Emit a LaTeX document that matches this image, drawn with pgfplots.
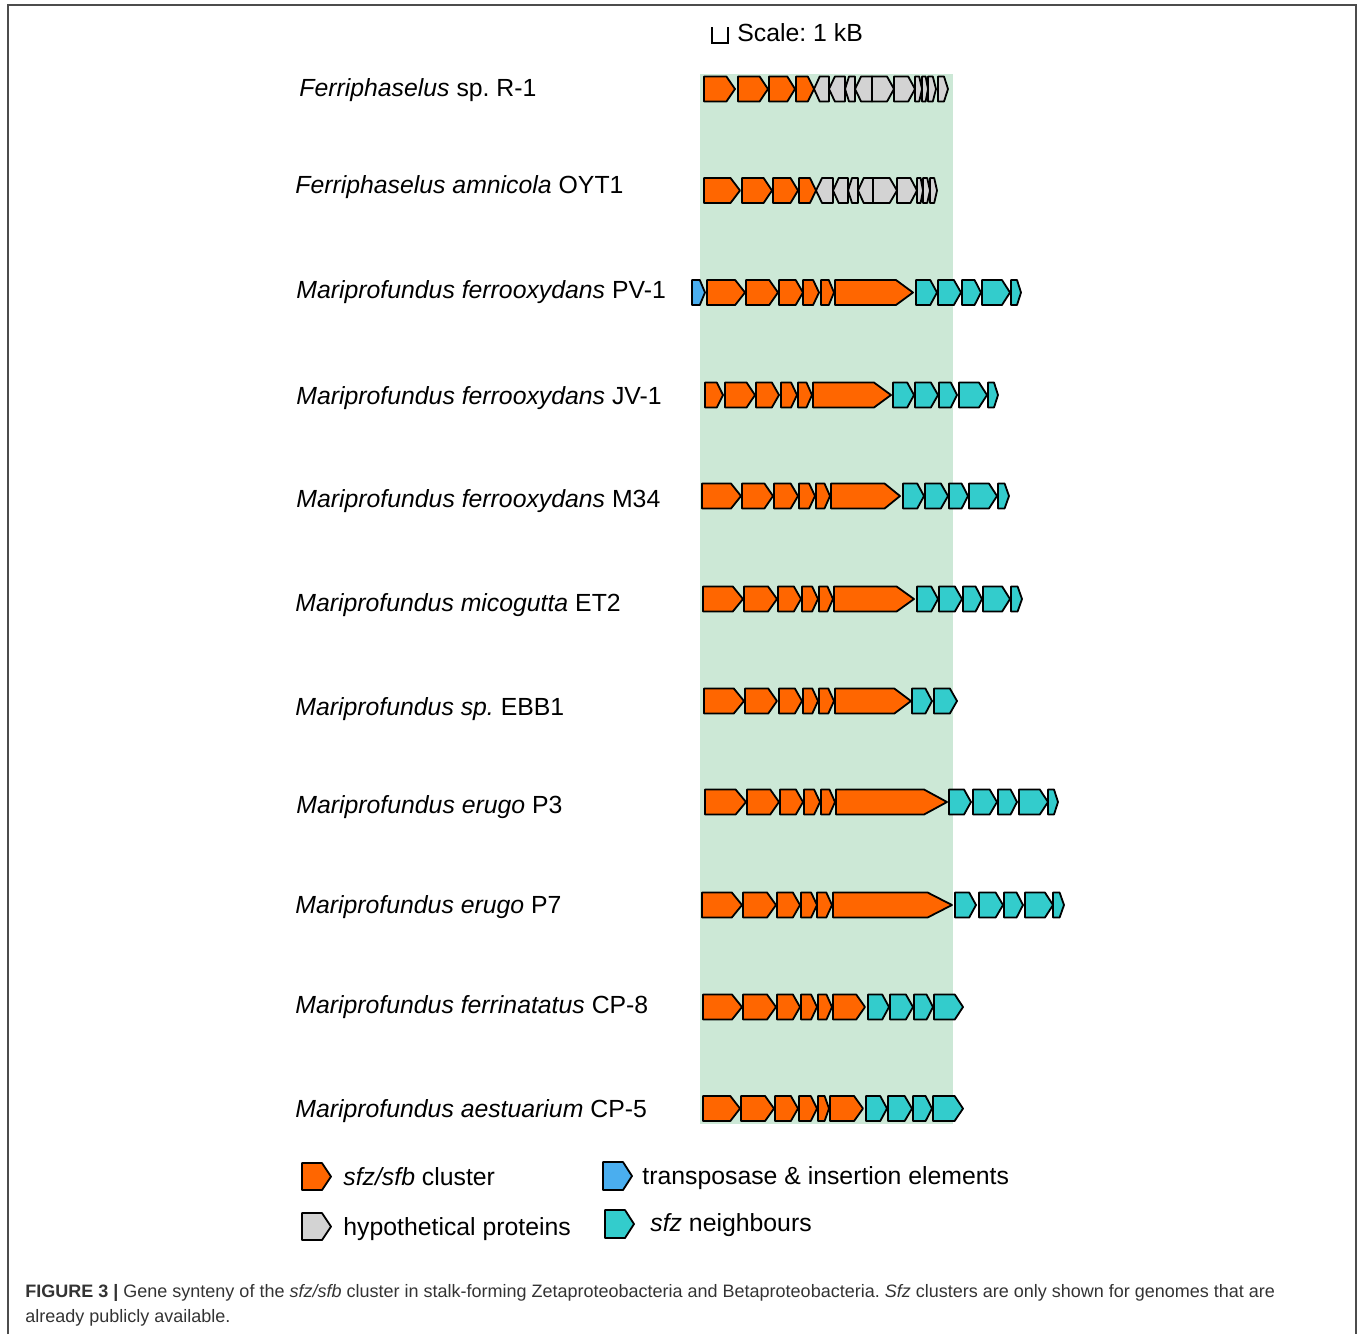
\documentclass[border=0pt]{standalone}
\usepackage{fontspec}
\setmainfont{Liberation Sans}
\usepackage{pgfplots}
\pgfplotsset{compat=1.18}
\frenchspacing

\definecolor{sfz}{HTML}{FF6600}
\definecolor{hyp}{HTML}{D3D3D3}
\definecolor{tra}{HTML}{4AAEEF}
\definecolor{nei}{HTML}{33CCCC}
\definecolor{bg}{HTML}{CCE8D6}
\definecolor{cap}{HTML}{333333}

\pgfplotsset{gene/.style={draw=black, line width=0.9pt, line join=round}}

% forward gene: start, end, row centre, colour
\newcommand{\fwd}[4]{%
  \pgfmathsetmacro\gl{#2-#1}%
  \pgfmathsetmacro\gt{min(0.18*\gl+3,0.4*\gl)}%
  \pgfmathsetmacro\gs{#2-\gt}%
  \pgfmathsetmacro\ya{#3-12.5}%
  \pgfmathsetmacro\yb{#3+12.5}%
  \addplot[gene, fill=#4] coordinates {(#1,\ya) (\gs,\ya) (#2,#3) (\gs,\yb) (#1,\yb)} -- cycle;
}
% reverse gene
\newcommand{\rev}[4]{%
  \pgfmathsetmacro\gl{#2-#1}%
  \pgfmathsetmacro\gt{min(0.18*\gl+3,0.4*\gl)}%
  \pgfmathsetmacro\gs{#1+\gt}%
  \pgfmathsetmacro\ya{#3-12.5}%
  \pgfmathsetmacro\yb{#3+12.5}%
  \addplot[gene, fill=#4] coordinates {(\gs,\ya) (#2,\ya) (#2,\yb) (\gs,\yb) (#1,#3)} -- cycle;
}
\newcommand{\lab}{\fontsize{12.4}{14}\selectfont}

\begin{document}
\begin{tikzpicture}
\begin{axis}[
  hide axis, clip=false, scale only axis,
  width=682.5pt, height=667pt,
  xmin=0, xmax=1365, ymin=0, ymax=1334,
  y dir=reverse
]
% page extent
\addplot[draw=none] coordinates {(0,0) (1365,1334)};
% frame
\addplot[black!70, line width=1pt] coordinates {(8,1334) (8,5) (1356,5) (1356,1334)};

% shaded sfz/sfb region
\addplot[fill=bg, draw=none] coordinates {(700,74) (953,74) (953,1124) (700,1124)} -- cycle;

% scale bar
\addplot[black, line width=1pt] coordinates {(712,27) (712,43) (728,43) (728,27)};
\node[anchor=base west, inner sep=0pt, font=\lab] at (axis cs:737,41) {Scale: 1 kB};

% Ferriphaselus sp. R-1
\fwd{704}{735}{89}{sfz}
\fwd{738}{768}{89}{sfz}
\fwd{769}{795}{89}{sfz}
\fwd{796}{814}{89}{sfz}
\rev{814}{829}{89}{hyp}
\rev{829}{845}{89}{hyp}
\rev{845}{855}{89}{hyp}
\rev{855}{872}{89}{hyp}
\fwd{872}{894}{89}{hyp}
\fwd{894}{915}{89}{hyp}
\fwd{915}{922}{89}{hyp}
\fwd{922}{928}{89}{hyp}
\fwd{928}{936}{89}{hyp}
\fwd{938}{948}{89}{hyp}

% Ferriphaselus amnicola OYT1
\fwd{704}{740}{190.5}{sfz}
\fwd{742}{772}{190.5}{sfz}
\fwd{773}{798}{190.5}{sfz}
\fwd{799}{816}{190.5}{sfz}
\rev{816}{833}{190.5}{hyp}
\rev{833}{848}{190.5}{hyp}
\rev{848}{858}{190.5}{hyp}
\rev{858}{873}{190.5}{hyp}
\fwd{873}{897}{190.5}{hyp}
\fwd{897}{917}{190.5}{hyp}
\fwd{917}{923}{190.5}{hyp}
\fwd{923}{930}{190.5}{hyp}
\fwd{930}{937}{190.5}{hyp}

% M. ferrooxydans PV-1
\fwd{692}{705}{292.5}{tra}
\fwd{707}{745}{292.5}{sfz}
\fwd{746}{778}{292.5}{sfz}
\fwd{779}{803}{292.5}{sfz}
\fwd{803}{819}{292.5}{sfz}
\fwd{821}{834}{292.5}{sfz}
\fwd{835}{913}{292.5}{sfz}
\fwd{916}{937}{292.5}{nei}
\fwd{938}{961}{292.5}{nei}
\fwd{962}{981}{292.5}{nei}
\fwd{982}{1010}{292.5}{nei}
\fwd{1011}{1021}{292.5}{nei}

% M. ferrooxydans JV-1
\fwd{705}{723}{395}{sfz}
\fwd{725}{755}{395}{sfz}
\fwd{756}{779}{395}{sfz}
\fwd{781}{797}{395}{sfz}
\fwd{798}{812}{395}{sfz}
\fwd{813}{891}{395}{sfz}
\fwd{893}{914}{395}{nei}
\fwd{915}{938}{395}{nei}
\fwd{939}{957}{395}{nei}
\fwd{959}{987}{395}{nei}
\fwd{988}{998}{395}{nei}

% M. ferrooxydans M34
\fwd{702}{741}{496}{sfz}
\fwd{742}{773}{496}{sfz}
\fwd{774}{798}{496}{sfz}
\fwd{799}{815}{496}{sfz}
\fwd{816}{830}{496}{sfz}
\fwd{831}{900}{496}{sfz}
\fwd{903}{924}{496}{nei}
\fwd{925}{948}{496}{nei}
\fwd{949}{968}{496}{nei}
\fwd{969}{997}{496}{nei}
\fwd{998}{1009}{496}{nei}

% M. micogutta ET2
\fwd{703}{743}{599}{sfz}
\fwd{744}{777}{599}{sfz}
\fwd{778}{801}{599}{sfz}
\fwd{802}{818}{599}{sfz}
\fwd{819}{833}{599}{sfz}
\fwd{834}{914}{599}{sfz}
\fwd{917}{938}{599}{nei}
\fwd{939}{962}{599}{nei}
\fwd{963}{982}{599}{nei}
\fwd{983}{1010}{599}{nei}
\fwd{1011}{1022}{599}{nei}

% M. sp. EBB1
\fwd{704}{744}{701}{sfz}
\fwd{745}{777}{701}{sfz}
\fwd{779}{802}{701}{sfz}
\fwd{803}{818}{701}{sfz}
\fwd{819}{834}{701}{sfz}
\fwd{835}{911}{701}{sfz}
\fwd{912}{932}{701}{nei}
\fwd{934}{957}{701}{nei}

% M. erugo P3
\fwd{705}{746}{802}{sfz}
\fwd{747}{779}{802}{sfz}
\fwd{780}{803}{802}{sfz}
\fwd{804}{820}{802}{sfz}
\fwd{821}{835}{802}{sfz}
\fwd{836}{947}{802}{sfz}
\fwd{949}{971}{802}{nei}
\fwd{973}{997}{802}{nei}
\fwd{998}{1017}{802}{nei}
\fwd{1019}{1048}{802}{nei}
\fwd{1048}{1058}{802}{nei}

% M. erugo P7
\fwd{702}{742}{905}{sfz}
\fwd{743}{776}{905}{sfz}
\fwd{777}{800}{905}{sfz}
\fwd{801}{817}{905}{sfz}
\fwd{817}{832}{905}{sfz}
\fwd{833}{952}{905}{sfz}
\fwd{955}{976}{905}{nei}
\fwd{979}{1003}{905}{nei}
\fwd{1004}{1023}{905}{nei}
\fwd{1025}{1053}{905}{nei}
\fwd{1053}{1064}{905}{nei}

% M. ferrinatatus CP-8
\fwd{703}{742}{1007}{sfz}
\fwd{743}{776}{1007}{sfz}
\fwd{777}{800}{1007}{sfz}
\fwd{801}{817}{1007}{sfz}
\fwd{818}{832}{1007}{sfz}
\fwd{833}{865}{1007}{sfz}
\fwd{868}{889}{1007}{nei}
\fwd{890}{913}{1007}{nei}
\fwd{914}{933}{1007}{nei}
\fwd{934}{963}{1007}{nei}

% M. aestuarium CP-5
\fwd{703}{740}{1108.5}{sfz}
\fwd{741}{774}{1108.5}{sfz}
\fwd{775}{798}{1108.5}{sfz}
\fwd{799}{817}{1108.5}{sfz}
\fwd{818}{829}{1108.5}{sfz}
\fwd{830}{863}{1108.5}{sfz}
\fwd{866}{887}{1108.5}{nei}
\fwd{888}{912}{1108.5}{nei}
\fwd{913}{932}{1108.5}{nei}
\fwd{933}{963}{1108.5}{nei}

% genome labels
\node[anchor=base west, inner sep=0pt, font=\lab] at (axis cs:299,96) {\textit{Ferriphaselus} sp. R-1};
\node[anchor=base west, inner sep=0pt, font=\lab] at (axis cs:295,193) {\textit{Ferriphaselus amnicola} OYT1};
\node[anchor=base west, inner sep=0pt, font=\lab] at (axis cs:296,298) {\textit{Mariprofundus ferrooxydans} PV-1};
\node[anchor=base west, inner sep=0pt, font=\lab] at (axis cs:296,404) {\textit{Mariprofundus ferrooxydans} JV-1};
\node[anchor=base west, inner sep=0pt, font=\lab] at (axis cs:296,507) {\textit{Mariprofundus ferrooxydans} M34};
\node[anchor=base west, inner sep=0pt, font=\lab] at (axis cs:295,611) {\textit{Mariprofundus micogutta} ET2};
\node[anchor=base west, inner sep=0pt, font=\lab] at (axis cs:295,715) {\textit{Mariprofundus sp.} EBB1};
\node[anchor=base west, inner sep=0pt, font=\lab] at (axis cs:296,813) {\textit{Mariprofundus erugo} P3};
\node[anchor=base west, inner sep=0pt, font=\lab] at (axis cs:295,913) {\textit{Mariprofundus erugo} P7};
\node[anchor=base west, inner sep=0pt, font=\lab] at (axis cs:295,1013) {\textit{Mariprofundus ferrinatatus} CP-8};
\node[anchor=base west, inner sep=0pt, font=\lab] at (axis cs:295,1117) {\textit{Mariprofundus aestuarium} CP-5};

% legend
\addplot[gene, fill=sfz] coordinates {(302,1163) (322,1163) (331,1176.5) (322,1190) (302,1190)} -- cycle;
\addplot[gene, fill=hyp] coordinates {(302,1213) (322,1213) (331,1226.5) (322,1240) (302,1240)} -- cycle;
\addplot[gene, fill=tra] coordinates {(603,1162) (623,1162) (632,1176) (623,1190) (603,1190)} -- cycle;
\addplot[gene, fill=nei] coordinates {(605,1210) (625,1210) (634,1224) (625,1238) (605,1238)} -- cycle;
\node[anchor=base west, inner sep=0pt, font=\lab] at (axis cs:343,1185) {\textit{sfz/sfb} cluster};
\node[anchor=base west, inner sep=0pt, font=\lab] at (axis cs:343,1235) {hypothetical proteins};
\node[anchor=base west, inner sep=0pt, font=\lab] at (axis cs:642,1184) {transposase \& insertion elements};
\node[anchor=base west, inner sep=0pt, font=\lab] at (axis cs:650,1231) {\textit{sfz} neighbours};

% caption
\node[anchor=base west, inner sep=0pt, text=cap, font=\fontsize{9.0}{11}\selectfont] at (axis cs:25,1297)
  {\textbf{FIGURE 3 \textbar} Gene synteny of the \textit{sfz/sfb} cluster in stalk-forming Zetaproteobacteria and Betaproteobacteria. \textit{Sfz} clusters are only shown for genomes that are};
\node[anchor=base west, inner sep=0pt, text=cap, font=\fontsize{9.0}{11}\selectfont] at (axis cs:25,1322)
  {already publicly available.};
\end{axis}
\end{tikzpicture}
\end{document}
